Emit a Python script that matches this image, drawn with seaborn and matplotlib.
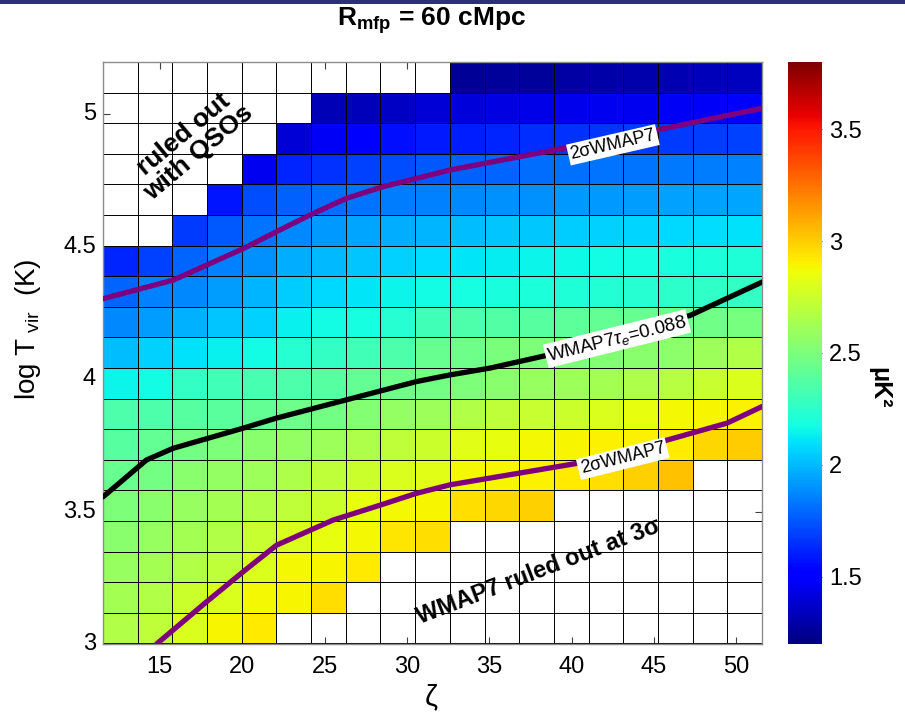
import numpy as np
import pandas as pd
import seaborn as sns
import matplotlib
matplotlib.use('Agg')
import matplotlib.pyplot as plt
from matplotlib.patches import Rectangle

nan = np.nan

# cell centres of the grid
zeta = [12.6, 14.7, 16.8, 18.9, 21.0, 23.1, 25.2, 27.4, 29.5, 31.6,
        33.7, 35.8, 37.9, 40.0, 42.1, 44.2, 46.3, 48.4, 50.5]
logT = [5.14, 5.03, 4.91, 4.80, 4.68, 4.56, 4.45, 4.33, 4.22, 4.10,
        3.98, 3.87, 3.75, 3.64, 3.52, 3.41, 3.29, 3.17, 3.06]

# power in uK^2, rows from top (high Tvir) to bottom, nan = ruled out
power = [
    [nan]*10 + [1.26, 1.27, 1.27, 1.29, 1.30, 1.31, 1.32, 1.34, 1.35],
    [nan]*6 + [1.33, 1.34, 1.36, 1.40, 1.41, 1.43, 1.44, 1.45, 1.46, 1.46, 1.47, 1.48, 1.49],
    [nan]*5 + [1.40, 1.47, 1.51, 1.56, 1.59, 1.60, 1.62, 1.64, 1.655, 1.66, 1.67, 1.675, 1.68, 1.69],
    [nan]*4 + [1.46, 1.62, 1.655, 1.69, 1.72, 1.75, 1.77, 1.785, 1.80, 1.81, 1.82, 1.82, 1.83, 1.84, 1.85],
    [nan]*3 + [1.58, 1.72, 1.77, 1.80, 1.82, 1.84, 1.85, 1.88, 1.90, 1.90, 1.915, 1.92, 1.93, 1.935, 1.94, 1.95],
    [nan]*2 + [1.67, 1.75, 1.82, 1.88, 1.915, 1.95, 1.97, 1.99, 2.01, 2.03, 2.04, 2.045, 2.06, 2.07, 2.08, 2.09, 2.10],
    [1.62, 1.69, 1.785, 1.85, 1.90, 1.97, 2.00, 2.03, 2.06, 2.09, 2.11, 2.13, 2.15, 2.16, 2.17, 2.18, 2.19, 2.20, 2.21],
    [1.785, 1.85, 1.88, 1.93, 1.99, 2.045, 2.08, 2.11, 2.15, 2.17, 2.18, 2.19, 2.20, 2.21, 2.22, 2.23, 2.25, 2.26, 2.27],
    [1.88, 1.93, 1.98, 2.03, 2.06, 2.14, 2.17, 2.18, 2.23, 2.31, 2.35, 2.37, 2.38, 2.40, 2.42, 2.43, 2.45, 2.46, 2.48],
    [2.01, 2.06, 2.10, 2.14, 2.17, 2.23, 2.27, 2.31, 2.35, 2.43, 2.45, 2.49, 2.50, 2.51, 2.53, 2.55, 2.56, 2.61, 2.67],
    [2.15, 2.17, 2.27, 2.31, 2.33, 2.35, 2.38, 2.42, 2.45, 2.47, 2.51, 2.55, 2.59, 2.61, 2.63, 2.66, 2.69, 2.74, 2.80],
    [2.35, 2.35, 2.38, 2.39, 2.42, 2.45, 2.47, 2.53, 2.58, 2.61, 2.67, 2.71, 2.74, 2.75, 2.80, 2.84, 2.88, 2.89, 2.90],
    [2.38, 2.42, 2.47, 2.51, 2.55, 2.58, 2.61, 2.66, 2.71, 2.75, 2.82, 2.84, 2.88, 2.89, 2.90, 2.90, 2.91, 2.97, 3.00],
    [2.43, 2.47, 2.55, 2.58, 2.61, 2.66, 2.71, 2.75, 2.80, 2.82, 2.88, 2.89, 2.90, 2.92, 2.95, 2.99, 3.03, nan, nan],
    [2.51, 2.55, 2.59, 2.63, 2.67, 2.71, 2.75, 2.84, 2.88, 2.89, 2.95, 2.97, 2.99] + [nan]*6,
    [2.55, 2.59, 2.63, 2.67, 2.74, 2.80, 2.84, 2.88, 2.93, 2.95] + [nan]*9,
    [2.59, 2.63, 2.67, 2.71, 2.80, 2.88, 2.89, 2.92] + [nan]*11,
    [2.63, 2.67, 2.75, 2.80, 2.88, 2.89, 2.95] + [nan]*12,
    [2.67, 2.71, 2.80, 2.89, 2.92] + [nan]*14,
]

# constraint curves (zeta, log Tvir)
upper_zeta = [11.56, 15.81, 20.06, 22.08, 24.11, 26.33, 28.56, 30.58, 32.61, 38.70, 45.18, 51.57]
upper_logT = [4.304, 4.374, 4.493, 4.557, 4.620, 4.683, 4.727, 4.758, 4.790, 4.862, 4.941, 5.023]
tau_zeta = [11.56, 14.19, 15.81, 20.06, 22.08, 26.33, 30.58, 32.61, 35.06, 38.5, 42.0, 47.2, 51.57]
tau_logT = [3.556, 3.695, 3.739, 3.815, 3.853, 3.922, 3.991, 4.016, 4.042, 4.09, 4.15, 4.241, 4.367]
lower_zeta = [14.80, 17.83, 20.06, 22.08, 25.52, 28.36, 30.58, 32.61, 40.32, 45.79, 49.43, 51.57]
lower_logT = [3.0, 3.159, 3.273, 3.373, 3.468, 3.524, 3.569, 3.601, 3.682, 3.770, 3.834, 3.897]

xticks = [15, 20, 25, 30, 35, 40, 45, 50]
yticks = [3, 3.5, 4, 4.5, 5]
cticks = [1.5, 2, 2.5, 3, 3.5]

sns.set_style('white')
plt.rcParams['font.family'] = ['Liberation Sans', 'DejaVu Sans']
plt.rcParams['mathtext.fontset'] = 'custom'
plt.rcParams['mathtext.rm'] = 'Liberation Sans'
plt.rcParams['mathtext.it'] = 'Liberation Sans:italic'
plt.rcParams['mathtext.bf'] = 'Liberation Sans:bold'
plt.rcParams['text.color'] = 'black'
plt.rcParams['xtick.color'] = 'black'
plt.rcParams['ytick.color'] = 'black'
plt.rcParams['axes.labelcolor'] = 'black'

fig = plt.figure(figsize=(9.05, 7.2), dpi=100)
ax = fig.add_axes([0.1138, 0.1056, 0.7282, 0.8083])
cax = fig.add_axes([0.8707, 0.1056, 0.0376, 0.8083])

df = pd.DataFrame(power, index=logT, columns=zeta)
sns.heatmap(df, ax=ax, cbar_ax=cax, cmap='jet', vmin=1.2, vmax=3.8, linewidths=0)

# map data coords onto heatmap cell coords
dz = (zeta[-1] - zeta[0]) / (len(zeta) - 1)
dT = (logT[0] - logT[-1]) / (len(logT) - 1)


def cx(z):
    return (np.asarray(z, dtype=float) - zeta[0]) / dz + 0.5


def cy(t):
    return (logT[0] - np.asarray(t, dtype=float)) / dT + 0.5


# cell edges, also across the blank cells
ax.hlines(np.arange(len(logT) + 1), 0, len(zeta), colors='k', lw=0.7, zorder=2)
ax.vlines(np.arange(len(zeta) + 1), 0, len(logT), colors='k', lw=0.7, zorder=2)

purple = '#7e007e'
ax.plot(cx(upper_zeta), cy(upper_logT), color=purple, lw=3.8, zorder=3)
ax.plot(cx(tau_zeta), cy(tau_logT), color='black', lw=3.8, zorder=3)
ax.plot(cx(lower_zeta), cy(lower_logT), color=purple, lw=3.8, zorder=3)

box = dict(facecolor='white', edgecolor='none', pad=1.5)
ax.text(cx(42.5), cy(4.885), '2σWMAP7', rotation=13, ha='center', va='center',
        fontsize=13, bbox=box, zorder=5)
ax.text(cx(42.75), cy(4.153), r'WMAP7$\tau_e$=0.088', rotation=14, ha='center',
        va='center', fontsize=13.5, bbox=box, zorder=5)
ax.text(cx(43.1), cy(3.70), '2σWMAP7', rotation=14, ha='center', va='center',
        fontsize=13, bbox=box, zorder=5)

ax.text(cx(16.9), cy(4.89), 'ruled out\nwith QSOs', rotation=40, ha='center',
        va='center', fontsize=19, fontweight='bold', linespacing=1.0, zorder=5)
ax.text(cx(38.0), cy(3.273), 'WMAP7 ruled out at 3σ', rotation=21, ha='center',
        va='center', fontsize=17, fontweight='bold', zorder=5)

ax.set_xticks(cx(xticks))
ax.set_xticklabels([str(v) for v in xticks], rotation=0)
ax.set_yticks(cy(yticks))
ax.set_yticklabels(['3', '3.5', '4', '4.5', '5'], rotation=0, va='center')
ax.set_xlabel('')
ax.set_ylabel('')
ax.tick_params(axis='both', labelsize=17, direction='in', length=5, width=0.8,
               bottom=True, left=True, top=True, right=True, color='0.25')
ax.tick_params(axis='x', pad=9)
ax.tick_params(axis='y', pad=5)
for s in ax.spines.values():
    s.set_visible(True)
    s.set_color('0.55')
    s.set_linewidth(1.0)

cbar = ax.collections[0].colorbar
cbar.set_ticks(cticks)
cbar.set_ticklabels(['1.5', '2', '2.5', '3', '3.5'])
cax.tick_params(labelsize=17, direction='in', length=5, left=True, right=True, color='0.25', pad=5)
cbar.outline.set_edgecolor('0.55')

fig.text(0.477, 0.972, r'R$_{\mathbf{mfp}}$ = 60 cMpc', ha='center', va='center',
         fontsize=19, fontweight='bold')
fig.text(0.031, 0.542, r'log T$_{\rm\ vir}$  (K)', rotation=90, ha='center', va='center', fontsize=20)
fig.text(0.477, 0.031, 'ζ', ha='center', va='center', fontsize=21)
fig.text(0.972, 0.461, 'μK²', rotation=270, ha='center', va='center', fontsize=18, fontweight='bold')

# dark header rule at the very top
fig.patches.append(Rectangle((0, 1 - 4 / 720), 1, 4 / 720, transform=fig.transFigure,
                             facecolor='#2b3178', edgecolor='none'))

fig.savefig('out.png', dpi=100)
